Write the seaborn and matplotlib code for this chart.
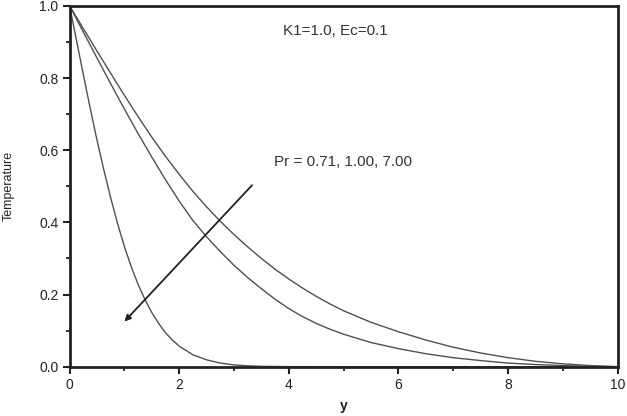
import matplotlib
matplotlib.use('Agg')
import matplotlib.pyplot as plt
import seaborn as sns
from matplotlib.ticker import MultipleLocator, FormatStrFormatter

# valores
y_pr071 = [0.0, 0.25, 0.5, 0.75, 1.0, 1.25, 1.5, 1.75, 2.0, 2.25, 2.5, 2.75, 3.0,
           3.25, 3.5, 3.75, 4.0, 4.25, 4.5, 4.75, 5.0, 5.5, 6.0, 6.5, 7.0,
           7.5, 8.0, 8.5, 9.0, 9.5, 10.0]
t_pr071 = [1.0, 0.937, 0.8745, 0.813, 0.752, 0.693, 0.636, 0.583, 0.533, 0.486, 0.443, 0.403, 0.366,
           0.332, 0.300, 0.270, 0.243, 0.218, 0.195, 0.174, 0.155, 0.123, 0.097, 0.074, 0.054,
           0.038, 0.025, 0.015, 0.008, 0.003, 0.0]

y_pr100 = [0.0, 0.25, 0.5, 0.75, 1.0, 1.25, 1.5, 1.75, 2.0, 2.25, 2.5, 2.75, 3.0,
           3.25, 3.5, 3.75, 4.0, 4.25, 4.5, 4.75, 5.0, 5.5, 6.0, 6.5, 7.0,
           7.5, 8.0, 8.5, 9.0, 9.5, 10.0]
t_pr100 = [1.0, 0.9275, 0.8555, 0.784, 0.714, 0.646, 0.581, 0.518, 0.459, 0.405, 0.360, 0.319, 0.281,
           0.247, 0.216, 0.187, 0.161, 0.139, 0.120, 0.104, 0.090, 0.067, 0.050, 0.036, 0.025,
           0.017, 0.010, 0.006, 0.003, 0.001, 0.0]

y_pr700 = [0.0, 0.125, 0.25, 0.375, 0.5, 0.625, 0.75, 0.875, 1.0, 1.125, 1.25, 1.375,
           1.5, 1.625, 1.75, 1.875, 2.0, 2.25, 2.5, 2.75, 3.0, 3.25, 3.5, 4.0,
           5.0, 6.0, 7.0, 8.0, 9.0, 10.0]
t_pr700 = [1.0, 0.905, 0.81, 0.717, 0.628, 0.545, 0.468, 0.397, 0.333, 0.277, 0.228, 0.186,
           0.150, 0.120, 0.094, 0.074, 0.057, 0.033, 0.019, 0.010, 0.005, 0.0025, 0.001, 0.0002,
           0.0, 0.0, 0.0, 0.0, 0.0, 0.0]

sns.set_style('ticks')
plt.rcParams['font.family'] = ['Liberation Sans', 'DejaVu Sans']

fig = plt.figure(figsize=(6.27, 4.16), dpi=100)
ax = fig.add_axes([0.111, 0.1185, 0.874, 0.8675])

for xs, ts in [(y_pr071, t_pr071), (y_pr100, t_pr100), (y_pr700, t_pr700)]:
    sns.lineplot(x=xs, y=ts, ax=ax, color='#505050', linewidth=1.0)

ax.set_xlim(0, 10)
ax.set_ylim(0, 1.0)
ax.xaxis.set_major_locator(MultipleLocator(2))
ax.xaxis.set_minor_locator(MultipleLocator(1))
ax.yaxis.set_major_locator(MultipleLocator(0.2))
ax.yaxis.set_minor_locator(MultipleLocator(0.1))
ax.yaxis.set_major_formatter(FormatStrFormatter('%.1f'))

for s in ax.spines.values():
    s.set_linewidth(2.0)
    s.set_color('#222222')
ax.tick_params(which='major', direction='out', length=5, width=1.5,
               labelsize=10, colors='#222222', pad=3)
ax.tick_params(which='minor', direction='out', length=3, width=1.3, colors='#222222')

ax.set_xlabel('y', fontsize=10, fontweight='bold', labelpad=5, color='#222222')
ax.set_ylabel('Temperature', fontsize=9, color='#222222')
ax.yaxis.set_label_coords(-0.1, 0.5)

ax.text(3.9, 0.93, 'K1=1.0, Ec=0.1', fontsize=11, color='#333333', va='center')
ax.text(3.73, 0.567, 'Pr = 0.71, 1.00, 7.00', fontsize=11, color='#333333', va='center')

ax.annotate('', xy=(1.0, 0.125), xytext=(3.33, 0.503),
            arrowprops=dict(arrowstyle='-|>', color='#222222', lw=1.3,
                            mutation_scale=9, shrinkA=0, shrinkB=0))

plt.savefig('out.png', dpi=100)
